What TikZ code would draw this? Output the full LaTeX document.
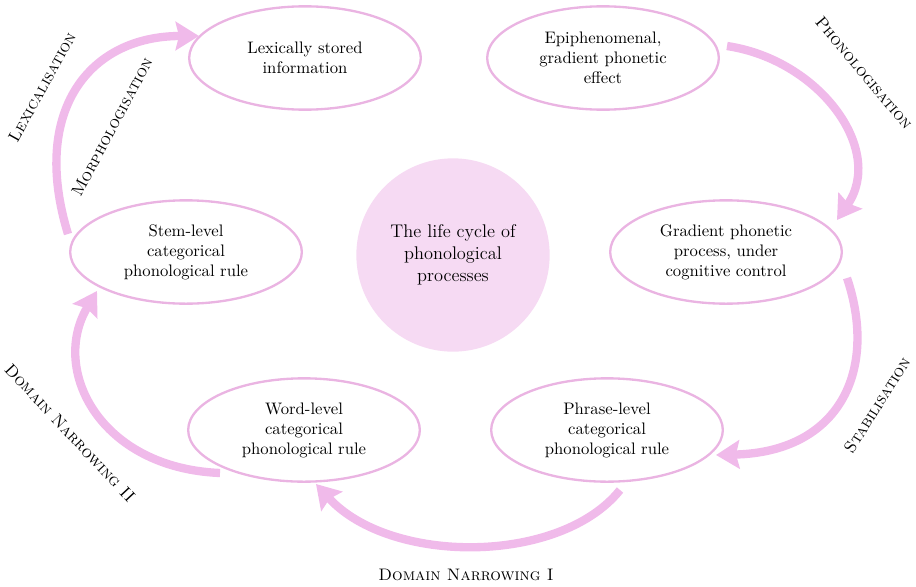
\documentclass[tikz,border=0pt]{standalone}
\usetikzlibrary{shapes.geometric,arrows.meta}
\definecolor{arrpink}{RGB}{240,186,234}
\definecolor{linepink}{RGB}{234,180,226}
\definecolor{circfill}{RGB}{246,218,243}
\begin{document}
\begin{tikzpicture}[x=0.6pt,y=-0.6pt,
  ell/.style={ellipse,draw=linepink,line width=1.4pt,minimum width=139pt,minimum height=62pt,inner sep=0pt,align=center,font=\normalsize,text=black},
  cyc/.style={line width=5pt,draw=arrpink,-{Stealth[length=14pt,width=17pt,inset=2pt,fill=arrpink]}},
  lab/.style={font=\normalsize\scshape,inner sep=0pt}]
\useasboundingbox (0,0) rectangle (916,586);
\node[circle,fill=circfill,minimum size=116pt,inner sep=0pt,align=center,font=\fontsize{11}{13.2}\selectfont] (core) at (453,255) {The life cycle of\\phonological\\processes};
\node[ell] (lex) at (305,58) {Lexically stored\\information};
\node[ell] (epi) at (603,58) {Epiphenomenal,\\gradient phonetic\\effect};
\node[ell] (grad) at (726,252) {Gradient phonetic\\process, under\\cognitive control};
\node[ell] (phr) at (607,430) {Phrase-level\\categorical\\phonological rule};
\node[ell] (word) at (304,430) {Word-level\\categorical\\phonological rule};
\node[ell] (stem) at (186,252) {Stem-level\\categorical\\phonological rule};
% arrow ends
\coordinate (a1s) at (727,46);  \coordinate (a1e) at (837,220);
\coordinate (a2s) at (847,278); \coordinate (a2e) at (716,455);
\coordinate (a3s) at (620,490); \coordinate (a3e) at (316,484);
\coordinate (a4s) at (220,473); \coordinate (a4e) at (97,291);
\coordinate (a5s) at (68,234);  \coordinate (a5e) at (199,36);
\draw[cyc] (a1s) .. controls (820,60) and (885,150) .. (a1e);
\draw[cyc] (a2s) .. controls (878,370) and (840,452) .. (a2e);
\draw[cyc] (a3s) .. controls (560,565) and (390,565) .. (a3e);
\draw[cyc] (a4s) .. controls (100,468) and (50,370) .. (a4e);
\draw[cyc] (a5s) .. controls (30,110) and (90,36) .. (a5e);
% labels
\node[lab,rotate=61] (llex) at (42,87) {Lexicalisation};
\node[lab,rotate=62] (lmor) at (112,127) {Morphologisation};
\node[lab,rotate=-50] (lpho) at (864,73) {Phonologisation};
\node[lab,rotate=58] (lsta) at (877,405) {Stabilisation};
\node[lab,rotate=-47] (ldn2) at (70,433) {Domain Narrowing II};
\node[lab] (ldn1) at (466,575) {Domain Narrowing I};
\end{tikzpicture}
\end{document}
